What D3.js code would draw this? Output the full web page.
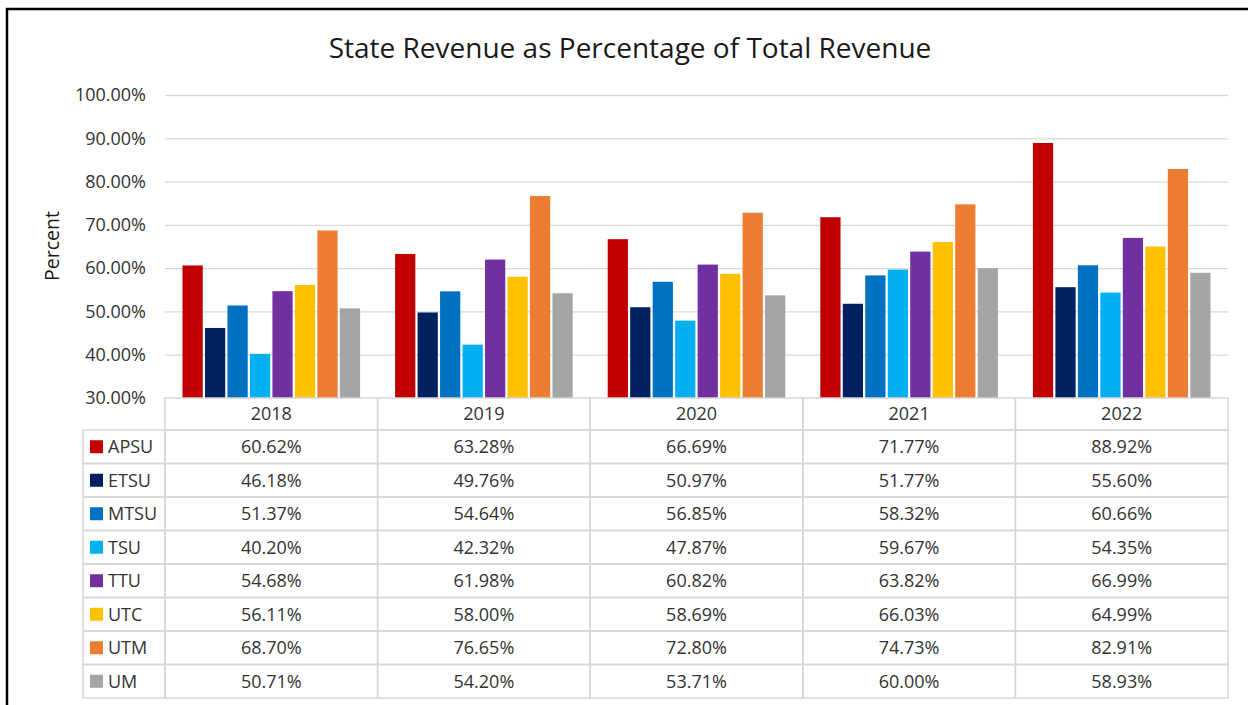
<!DOCTYPE html>
<html>
<head>
    <meta charset="utf-8" />
    <script src="https://d3js.org/d3.v7.min.js" charset="utf-8"></script>
    <title>State Revenue as Percentage of Total Revenue</title>
    <style type="text/css">
        body { margin: 0; background: #fff; }
        text { font-family: "Open Sans", "Noto Sans", sans-serif; fill: #333; }
        .grid line { stroke: #d9d9d9; stroke-width: 1.3px; }
        .grid path { display: none; }
        .cell { fill: none; stroke: #d6d6d6; stroke-width: 1.5px; }
    </style>
</head>
<body>
    <div id="chart"></div>

    <script type="text/javascript">
        const years = ["2018", "2019", "2020", "2021", "2022"];
        const schools = ["APSU", "ETSU", "MTSU", "TSU", "TTU", "UTC", "UTM", "UM"];
        const colors = ["#C00000", "#002060", "#0070C0", "#00B0F0", "#7030A0", "#FFC000", "#ED7D31", "#A5A5A5"];

        const apsu = [60.62, 63.28, 66.69, 71.77, 88.92];
        const etsu = [46.18, 49.76, 50.97, 51.77, 55.60];
        const mtsu = [51.37, 54.64, 56.85, 58.32, 60.66];
        const tsu  = [40.20, 42.32, 47.87, 59.67, 54.35];
        const ttu  = [54.68, 61.98, 60.82, 63.82, 66.99];
        const utc  = [56.11, 58.00, 58.69, 66.03, 64.99];
        const utm  = [68.70, 76.65, 72.80, 74.73, 82.91];
        const um   = [50.71, 54.20, 53.71, 60.00, 58.93];
        const yTicks = [30, 40, 50, 60, 70, 80, 90, 100];

        const series = [apsu, etsu, mtsu, tsu, ttu, utc, utm, um];

        const width = 1248, height = 705;
        const plotLeft = 165, plotRight = 1228, plotTop = 95, plotBase = 398;
        const rowH = 33.5, headH = 32, legendX = 83;

        const svg = d3.select("#chart").append("svg")
            .attr("width", width).attr("height", height);

        // outer frame (top + left edges visible)
        svg.append("path")
            .attr("d", "M7,705 L7,9 L1248,9")
            .attr("fill", "none").attr("stroke", "#000").attr("stroke-width", 2.5);

        const y = d3.scaleLinear().domain([30, 100]).range([plotBase, plotTop]);
        const x0 = d3.scaleBand().domain(years).range([plotLeft, plotRight]);
        const x1 = d3.scaleBand().domain(schools)
            .range([17.5, x0.bandwidth() - 17.5]).paddingInner(0.1);
        const color = d3.scaleOrdinal().domain(schools).range(colors);

        // gridlines + tick labels
        const yAxis = svg.append("g")
            .attr("class", "grid")
            .attr("transform", `translate(${plotLeft},0)`)
            .call(d3.axisLeft(y).tickValues(yTicks)
                .tickSize(-(plotRight - plotLeft))
                .tickPadding(19)
                .tickFormat(d => d.toFixed(2) + "%"));
        yAxis.selectAll("text").style("font-size", "18px").attr("fill", "#333");
        yAxis.selectAll(".tick line").filter(d => d === 30).remove();

        // bars
        const groups = svg.append("g").selectAll("g")
            .data(years).join("g")
            .attr("transform", d => `translate(${x0(d)},0)`);

        groups.selectAll("rect")
            .data((d, i) => schools.map((s, k) => ({ school: s, value: series[k][i] })))
            .join("rect")
            .attr("x", d => x1(d.school))
            .attr("width", x1.bandwidth())
            .attr("y", d => y(d.value))
            .attr("height", d => plotBase - y(d.value))
            .attr("fill", d => color(d.school));

        // title
        svg.append("text")
            .attr("x", 630).attr("y", 58)
            .attr("text-anchor", "middle")
            .style("font-size", "28px").style("fill", "#1a1a1a")
            .text("State Revenue as Percentage of Total Revenue");

        // axis title
        svg.append("text")
            .attr("transform", "translate(59,246) rotate(-90)")
            .attr("text-anchor", "middle")
            .style("font-size", "19.5px").style("fill", "#1a1a1a")
            .text("Percent");

        // data table header
        const table = svg.append("g");
        years.forEach(yr => {
            table.append("rect").attr("class", "cell")
                .attr("x", x0(yr)).attr("y", plotBase)
                .attr("width", x0.bandwidth()).attr("height", headH);
            table.append("text")
                .attr("x", x0(yr) + x0.bandwidth() / 2)
                .attr("y", plotBase + headH / 2)
                .attr("dy", "0.35em").attr("text-anchor", "middle")
                .style("font-size", "18px")
                .text(yr);
        });

        // data table rows
        schools.forEach((s, k) => {
            const ry = plotBase + headH + k * rowH;
            table.append("rect").attr("class", "cell")
                .attr("x", legendX).attr("y", ry)
                .attr("width", plotLeft - legendX).attr("height", rowH);
            table.append("rect")
                .attr("x", 90).attr("y", ry + rowH / 2 - 6.5)
                .attr("width", 13).attr("height", 13)
                .attr("fill", color(s));
            table.append("text")
                .attr("x", 108).attr("y", ry + rowH / 2)
                .attr("dy", "0.35em")
                .style("font-size", "18px")
                .text(s);
            years.forEach((yr, i) => {
                table.append("rect").attr("class", "cell")
                    .attr("x", x0(yr)).attr("y", ry)
                    .attr("width", x0.bandwidth()).attr("height", rowH);
                table.append("text")
                    .attr("x", x0(yr) + x0.bandwidth() / 2)
                    .attr("y", ry + rowH / 2)
                    .attr("dy", "0.35em").attr("text-anchor", "middle")
                    .style("font-size", "18px")
                    .text(series[k][i].toFixed(2) + "%");
            });
        });
    </script>
</body>
</html>
